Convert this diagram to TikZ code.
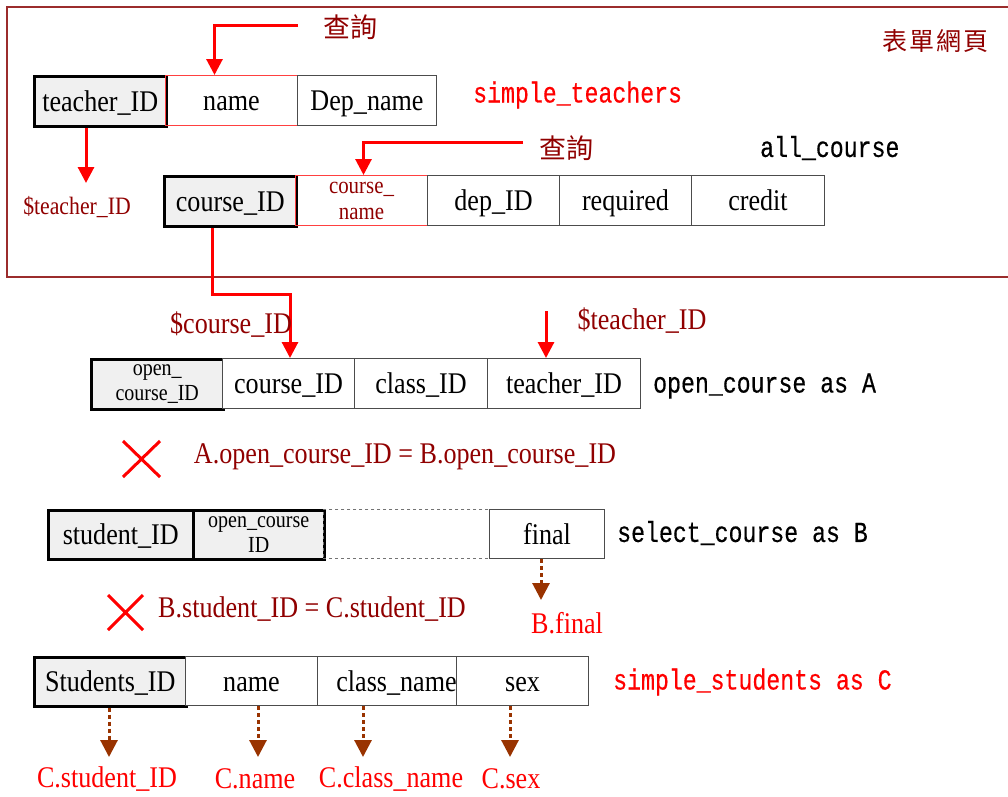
\documentclass[tikz,border=0pt]{standalone}
\usepackage{fontspec}
\setmainfont{Liberation Serif}[FakeStretch=0.87]
\newfontfamily\monof{Liberation Mono}[FakeStretch=0.8,FakeBold=0.4]
\newfontfamily\cjk{Noto Sans CJK TC}
\usetikzlibrary{arrows.meta}
\definecolor{dred}{HTML}{900000}
\definecolor{framec}{HTML}{9B2C2C}
\definecolor{brownc}{HTML}{993300}
\definecolor{keyfill}{HTML}{F0F0F0}
\begin{document}
\begin{tikzpicture}[x=1pt,y=-1pt,
  cell/.style={draw, inner sep=0pt, anchor=north west, minimum height=50pt, font=\fontsize{30}{32}\selectfont},
  one/.style={text height=22pt, text depth=2pt},
  keycell/.style={cell, fill=keyfill, draw=black, line width=2.5pt},
  plaincell/.style={cell, draw=black!70, line width=1pt, fill=white},
  redcell/.style={cell, draw=red!75, line width=1pt},
  blankcell/.style={cell, draw=black!55, dashed, line width=0.8pt},
  small/.style={font=\fontsize{24}{26}\selectfont, align=center},
  mono/.style={font=\monof\fontsize{29}{31}\selectfont, anchor=west, inner sep=0pt},
  lbl/.style={font=\fontsize{30}{32}\selectfont, inner sep=0pt},
  rarrow/.style={draw=red, line width=3pt, -{Triangle[length=16pt,width=16pt]}},
  barrow/.style={draw=brownc, line width=3pt, dash pattern=on 4pt off 3pt, -{Triangle[length=17pt,width=17pt]}},
  xmark/.style={draw=red, line width=3pt}
]
\useasboundingbox (0,0) rectangle (1008,796);
% form frame
\draw[framec, line width=1.5pt] (7,7) rectangle (1030,277);
\node[font=\cjk\fontsize{25}{27}\selectfont, text=dred, inner sep=0pt] (form) at (935,41) {表\hspace{2pt}單\hspace{2pt}網\hspace{2pt}頁};

% simple_teachers
\node[keycell, one, minimum width=132pt] (tid) at (33,75) {teacher\_ID};
\node[redcell, one, minimum width=132pt] (tname) at (165,75) {name};
\node[plaincell, one, minimum width=139pt] (tdep) at (297,75) {Dep\_name};
\node[mono, text=red] (tlab) at (473,95) {simple\_teachers};
\node[font=\cjk\fontsize{27}{29}\selectfont, text=dred, inner sep=0pt] (q1) at (350,27) {查詢};
\coordinate (q1s) at (298,25);
\draw[rarrow] (q1s) -| ([xshift=-17pt]tname.north);
\coordinate (ta) at (86,183);
\draw[rarrow] (tid.south -| ta) -- (ta);
\node[lbl, text=dred, font=\fontsize{25}{27}\selectfont] (tvar) at (77,207) {\$teacher\_ID};

% all_course
\node[keycell, one, minimum width=132pt] (cid) at (163,175) {course\_ID};
\node[redcell, minimum width=132pt, small, text=dred] (cname) at (295,175) {course\_\\name};
\node[plaincell, one, minimum width=132pt] (cdep) at (427,175) {dep\_ID};
\node[plaincell, one, minimum width=132pt] (creq) at (559,175) {required};
\node[plaincell, one, minimum width=133pt] (ccred) at (691,175) {credit};
\node[mono] (clab) at (760,148) {all\_course};
\node[font=\cjk\fontsize{27}{29}\selectfont, text=dred, inner sep=0pt] (q2) at (566,148) {查詢};
\coordinate (q2s) at (523,142);
\draw[rarrow] (q2s) -| ([xshift=2pt]cname.north);

% open_course as A
\node[keycell, minimum width=132pt, small, font=\fontsize{23}{25}\selectfont] (oid) at (90,358) {open\_\\course\_ID};
\node[plaincell, one, minimum width=132pt] (ocid) at (222,358) {course\_ID};
\node[plaincell, one, minimum width=133pt] (oclass) at (354,358) {class\_ID};
\node[plaincell, one, minimum width=153pt] (oteach) at (487,358) {teacher\_ID};
\node[mono] (olab) at (653,386) {open\_course as A};
\coordinate (k1) at (290,294);
\draw[rarrow] ([xshift=-18pt]cid.south) |- (k1) -- (k1 |- ocid.north);
\node[lbl, text=dred] (cvar) at (231,325) {\$course\_ID};
\node[lbl, text=dred] (tvar2) at (642,321) {\$teacher\_ID};
\coordinate (ta2) at (546,311);
\draw[rarrow] (ta2) -- (ta2 |- oteach.north);

% join A-B
\draw[xmark] (123,441) -- (160,477) (123,477) -- (160,441);
\node[lbl, text=dred] (j1) at (405,457) {A.open\_course\_ID = B.open\_course\_ID};

% select_course as B
\node[keycell, one, minimum width=145pt, minimum height=49pt] (sid) at (47,509) {student\_ID};
\node[keycell, minimum width=131pt, minimum height=49pt, small, font=\fontsize{23}{25}\selectfont] (socid) at (192,509) {open\_course\\ID};
\node[blankcell, minimum width=166pt, minimum height=49pt] (sblank) at (323,509) {};
\node[plaincell, one, minimum width=115pt, minimum height=49pt] (sfinal) at (489,509) {final};
\node[mono] (slab) at (617,533) {select\_course as B};
\coordinate (bf) at (541,600);
\draw[barrow] (sfinal.south -| bf) -- (bf);
\node[lbl, text=red] (bfin) at (567,623) {B.final};

% join B-C
\draw[xmark] (108,595) -- (143,630) (108,630) -- (143,595);
\node[lbl, text=dred] (j2) at (312,609) {B.student\_ID = C.student\_ID};

% simple_students as C
\node[keycell, one, minimum width=152pt, minimum height=49pt] (stid) at (33,656) {Students\_ID};
\node[plaincell, one, minimum width=132pt, minimum height=49pt] (sname) at (185,656) {name};
\node[plaincell, one, minimum width=158pt, minimum height=49pt] (sclass) at (317,656) {class\_name};
\node[plaincell, one, minimum width=132pt, minimum height=49pt] (ssex) at (456,656) {sex};
\node[mono, text=red] (stlab) at (613,682) {simple\_students as C};

\coordinate (e1) at (109,757);
\coordinate (e2) at (258,757);
\coordinate (e3) at (363,757);
\coordinate (e4) at (510,757);
\draw[barrow] (stid.south -| e1) -- (e1);
\draw[barrow] (sname.south -| e2) -- (e2);
\draw[barrow] (sclass.south -| e3) -- (e3);
\draw[barrow] (ssex.south -| e4) -- (e4);
\node[lbl, text=red] (l1) at (107,779) {C.student\_ID};
\node[lbl, text=red] (l2) at (255,779) {C.name};
\node[lbl, text=red] (l3) at (391,779) {C.class\_name};
\node[lbl, text=red] (l4) at (511,779) {C.sex};
\end{tikzpicture}
\end{document}
